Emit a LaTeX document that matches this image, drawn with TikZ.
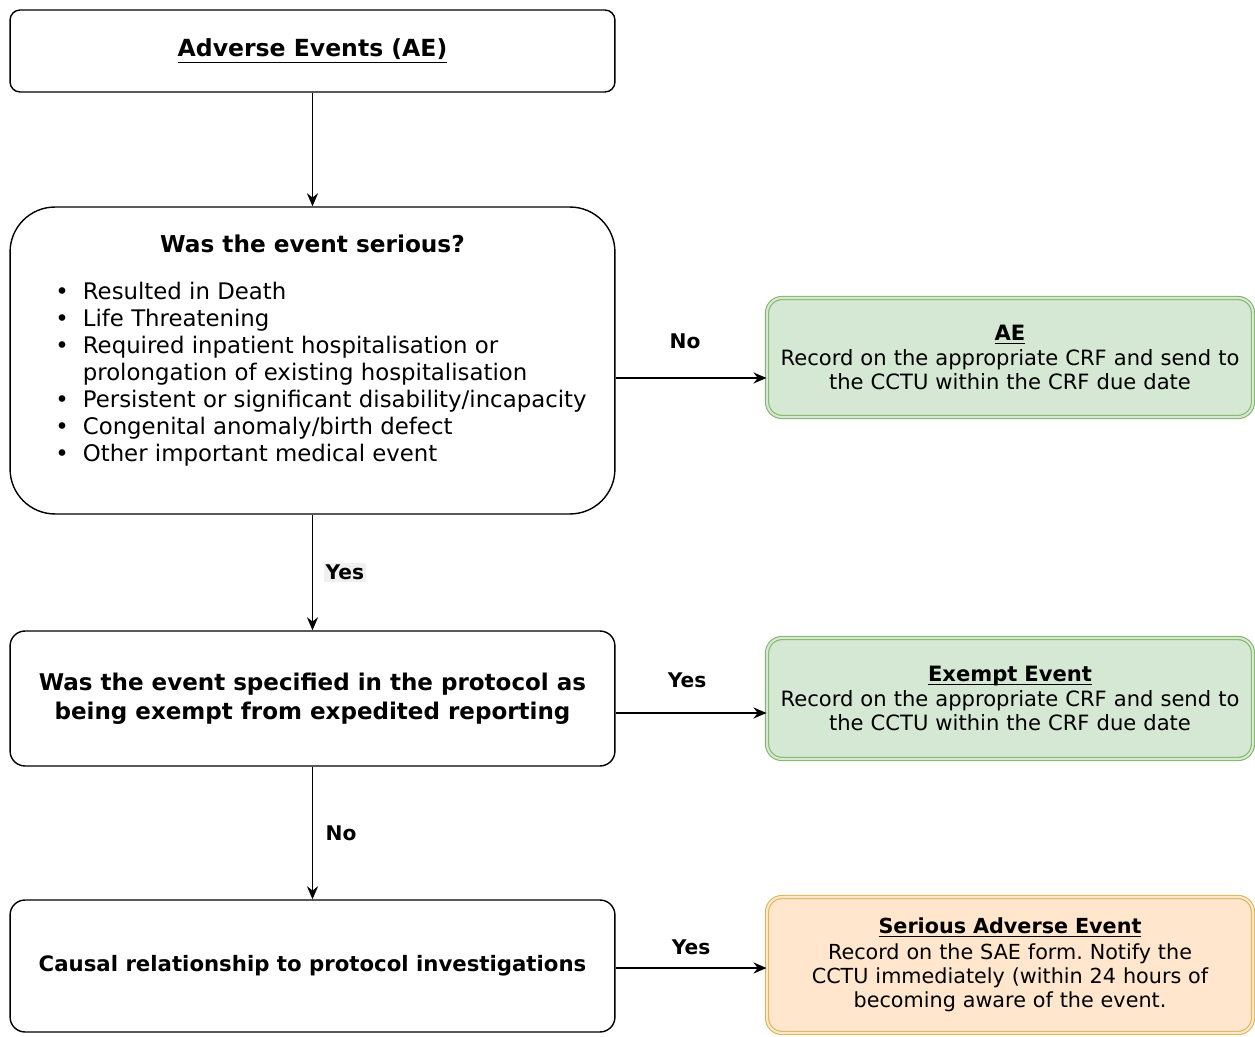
\documentclass[tikz,border=0pt]{standalone}
\usepackage{fontspec}
\setmainfont{DejaVu Sans}
\usepackage{tikz}
\usetikzlibrary{positioning,arrows.meta}
\frenchspacing

\definecolor{aegreen}{HTML}{D5E8D4}
\definecolor{aegreenln}{HTML}{82B366}
\definecolor{saefill}{HTML}{FFE6CC}
\definecolor{saeln}{HTML}{D6B656}

\begin{document}
\begin{tikzpicture}[x=0.02cm, y=-0.02cm,
  qbox/.style={draw, line width=0.8pt, minimum width=12.1cm, align=center,
               font=\fontsize{13}{15.4}\selectfont},
  outbox/.style={line width=0.6pt, double distance=1.2pt, rounded corners=0.3cm,
               minimum width=9.72cm, align=center, text width=9.4cm,
               font=\fontsize{12}{13.8}\selectfont},
  lbl/.style={font=\bfseries\fontsize{11.5}{13}\selectfont, inner sep=1pt},
  arr/.style={-{Stealth[length=2.6mm, width=2.2mm]}, line width=1pt}
]
\useasboundingbox (0,0) rectangle (1255,1037);
% ---- left column: questions ----
\node[qbox, rounded corners=0.2cm, minimum height=1.64cm,
      font=\bfseries\fontsize{13.4}{15}\selectfont] (ae) at (312.5,51)
      {\underline{Adverse Events (AE)}};
\node[qbox, rounded corners=0.9cm, minimum height=6.14cm] (ser) at (312.5,360.5)
      {{\bfseries\fontsize{13.2}{15}\selectfont Was the event serious?}\\[5.2mm]
       \hspace*{3.4mm}\begin{tabular}{@{}l@{\hspace{2.8mm}}l@{}}
       \textbullet & Resulted in Death\\
       \textbullet & Life Threatening\\
       \textbullet & Required inpatient hospitalisation or\\
                   & prolongation of existing hospitalisation\\
       \textbullet & Persistent or significant disability/incapacity\\
       \textbullet & Congenital anomaly/birth defect\\
       \textbullet & Other important medical event
       \end{tabular}\\[3mm]};
\node[qbox, rounded corners=0.3cm, minimum height=2.7cm,
      font=\bfseries\fontsize{13.1}{16.5}\selectfont] (exq) at (312.5,698.5)
      {Was the event specified in the protocol as\\being exempt from expedited reporting};
\node[qbox, rounded corners=0.3cm, minimum height=2.64cm,
      font=\bfseries\fontsize{12.1}{15}\selectfont] (cau) at (312.5,966)
      {Causal relationship to protocol investigations};
% ---- right column: outcomes ----
\node[outbox, draw=aegreenln, double=aegreen, fill=aegreen, minimum height=2.38cm]
      (rae) at (1010,357.5)
      {{\bfseries\underline{AE}}\\Record on the appropriate CRF and send to\\the CCTU within the CRF due date};
\node[outbox, draw=aegreenln, double=aegreen, fill=aegreen, minimum height=2.42cm]
      (rex) at (1010,698.5)
      {{\bfseries\underline{Exem\smash{p}t Event}}\\Record on the appropriate CRF and send to\\the CCTU within the CRF due date};
\node[outbox, draw=saeln, double=saefill, fill=saefill, minimum height=2.72cm,
      font=\fontsize{11.8}{13.8}\selectfont]
      (rsae) at (1010,965)
      {{\bfseries\underline{Serious Adverse Event}}\\[1pt]Record on the SAE form. Notify the\\CCTU immediately (within 24 hours of\\becoming aware of the event.};
% ---- connectors ----
\draw[arr] (ae) -- (ser);
\draw[arr] (ser) -- node[lbl, right=6pt, fill=black!6] {Yes} (exq);
\draw[arr] (exq) -- node[lbl, right=6pt] {No} (cau);
\draw[arr] ([yshift=-0.35cm]ser.east) coordinate (s1) -- node[lbl, above=15pt, xshift=-0.12cm] {No} (s1 -| rae.west);
\draw[arr] ([yshift=-0.29cm]exq.east) coordinate (s2) -- node[lbl, above=13pt, xshift=-0.08cm] {Yes} (s2 -| rex.west);
\draw[arr] ([yshift=-0.04cm]cau.east) coordinate (s3) -- node[lbl, above=6pt] {Yes} (s3 -| rsae.west);
\end{tikzpicture}
\end{document}
